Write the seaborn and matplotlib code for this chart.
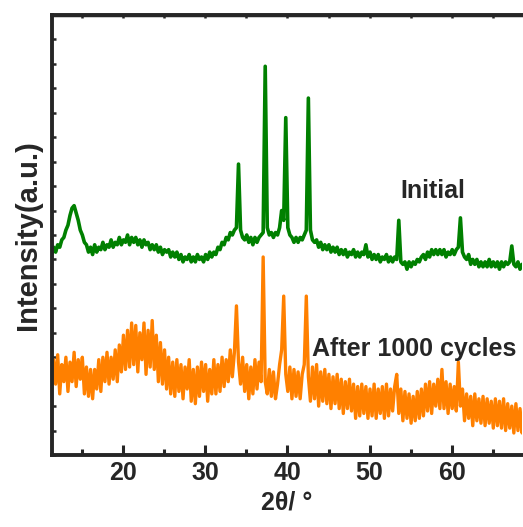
"""XRD patterns: initial vs after 1000 cycles."""

import matplotlib
matplotlib.use("Agg")
import matplotlib.pyplot as plt
from matplotlib.ticker import MultipleLocator
import pandas as pd
import seaborn as sns

# --- data (y in arbitrary units, curves stacked) ---
two_theta = [
    11.30, 11.55, 11.80, 12.05, 12.30, 12.55, 12.80, 13.05, 13.30, 13.55,
    13.80, 14.05, 14.30, 14.55, 14.80, 15.05, 15.30, 15.55, 15.80, 16.05,
    16.30, 16.55, 16.80, 17.05, 17.30, 17.55, 17.80, 18.05, 18.30, 18.55,
    18.80, 19.05, 19.30, 19.55, 19.80, 20.05, 20.30, 20.55, 20.80, 21.05,
    21.30, 21.55, 21.80, 22.05, 22.30, 22.55, 22.80, 23.05, 23.30, 23.55,
    23.80, 24.05, 24.30, 24.55, 24.80, 25.05, 25.30, 25.55, 25.80, 26.05,
    26.30, 26.55, 26.80, 27.05, 27.30, 27.55, 27.80, 28.05, 28.30, 28.55,
    28.80, 29.05, 29.30, 29.55, 29.80, 30.05, 30.30, 30.55, 30.80, 31.05,
    31.30, 31.55, 31.80, 32.05, 32.30, 32.55, 32.80, 33.05, 33.30, 33.55,
    33.80, 34.05, 34.30, 34.55, 34.80, 35.05, 35.30, 35.55, 35.80, 36.05,
    36.30, 36.55, 36.80, 37.05, 37.30, 37.55, 37.80, 38.05, 38.30, 38.55,
    38.80, 39.05, 39.30, 39.55, 39.80, 40.05, 40.30, 40.55, 40.80, 41.05,
    41.30, 41.55, 41.80, 42.05, 42.30, 42.55, 42.80, 43.05, 43.30, 43.55,
    43.80, 44.05, 44.30, 44.55, 44.80, 45.05, 45.30, 45.55, 45.80, 46.05,
    46.30, 46.55, 46.80, 47.05, 47.30, 47.55, 47.80, 48.05, 48.30, 48.55,
    48.80, 49.05, 49.30, 49.55, 49.80, 50.05, 50.30, 50.55, 50.80, 51.05,
    51.30, 51.55, 51.80, 52.05, 52.30, 52.55, 52.80, 53.05, 53.30, 53.55,
    53.80, 54.05, 54.30, 54.55, 54.80, 55.05, 55.30, 55.55, 55.80, 56.05,
    56.30, 56.55, 56.80, 57.05, 57.30, 57.55, 57.80, 58.05, 58.30, 58.55,
    58.80, 59.05, 59.30, 59.55, 59.80, 60.05, 60.30, 60.55, 60.80, 61.05,
    61.30, 61.55, 61.80, 62.05, 62.30, 62.55, 62.80, 63.05, 63.30, 63.55,
    63.80, 64.05, 64.30, 64.55, 64.80, 65.05, 65.30, 65.55, 65.80, 66.05,
    66.30, 66.55, 66.80, 67.05, 67.30, 67.55, 67.80, 68.05, 68.30, 68.55,
    68.80,
]

initial = [
    8.2, 8.5, 8.3, 8.6, 8.5, 8.8, 8.9, 9.2, 9.4, 9.8,
    10.1, 10.2, 9.9, 9.6, 9.2, 9.0, 8.7, 8.6, 8.3, 8.5,
    8.2, 8.6, 8.3, 8.5, 8.4, 8.7, 8.4, 8.6, 8.5, 8.8,
    8.5, 8.7, 8.6, 8.9, 8.6, 8.8, 8.7, 9.0, 8.6, 8.9,
    8.7, 8.9, 8.6, 8.8, 8.5, 8.8, 8.6, 8.7, 8.4, 8.6,
    8.4, 8.6, 8.3, 8.5, 8.2, 8.4, 8.3, 8.4, 8.1, 8.3,
    8.1, 8.3, 8.0, 8.2, 7.9, 8.1, 8.0, 8.2, 7.9, 8.1,
    7.9, 8.2, 8.0, 8.1, 7.9, 8.2, 8.0, 8.3, 8.1, 8.3,
    8.2, 8.5, 8.4, 8.7, 8.6, 8.9, 8.8, 9.1, 9.0, 9.2,
    9.3, 11.9, 9.2, 8.9, 8.8, 9.0, 8.7, 8.9, 8.6, 8.9,
    8.7, 8.9, 9.0, 9.1, 15.9, 9.3, 9.0, 9.1, 8.9, 9.1,
    9.0, 9.3, 10.0, 9.6, 13.8, 9.3, 9.0, 8.9, 8.7, 8.9,
    8.7, 8.9, 8.8, 9.0, 9.2, 14.6, 9.2, 8.8, 8.7, 8.8,
    8.5, 8.7, 8.4, 8.6, 8.4, 8.6, 8.3, 8.5, 8.3, 8.5,
    8.2, 8.4, 8.2, 8.4, 8.1, 8.3, 8.2, 8.4, 8.1, 8.3,
    8.1, 8.3, 8.2, 8.6, 8.1, 8.3, 8.0, 8.2, 8.0, 8.2,
    7.9, 8.1, 8.0, 8.2, 7.9, 8.1, 7.9, 8.1, 8.0, 9.6,
    7.9, 7.8, 7.9, 7.6, 7.9, 7.7, 7.9, 7.8, 8.0, 7.9,
    8.1, 8.2, 8.0, 8.3, 8.1, 8.4, 8.2, 8.4, 8.2, 8.4,
    8.2, 8.4, 8.1, 8.3, 8.2, 8.4, 8.2, 8.4, 8.5, 9.7,
    8.3, 8.1, 8.0, 8.2, 7.8, 8.0, 7.8, 8.0, 7.7, 7.9,
    7.7, 7.9, 7.7, 8.0, 7.7, 7.9, 7.7, 7.9, 7.6, 7.9,
    7.7, 7.9, 7.8, 7.9, 8.55, 7.8, 7.7, 7.9, 7.6, 7.8,
    7.7,
]

after_cycles = [
    2.6, 3.9, 2.9, 4.1, 2.5, 3.7, 3.0, 4.0, 2.6, 3.8,
    3.0, 4.2, 2.8, 3.9, 3.1, 4.0, 2.5, 3.6, 2.4, 3.5,
    2.3, 3.5, 2.7, 3.9, 2.6, 4.0, 3.0, 4.2, 2.9, 4.0,
    3.1, 4.3, 3.0, 4.5, 3.4, 4.9, 3.5, 5.1, 3.6, 5.4,
    3.7, 5.3, 3.4, 5.0, 3.9, 5.4, 3.3, 5.1, 3.6, 5.5,
    3.5, 4.9, 3.0, 4.6, 2.9, 4.3, 2.7, 4.0, 2.5, 3.8,
    2.4, 3.9, 2.6, 3.7, 2.3, 3.6, 2.7, 3.9, 2.2, 3.5,
    2.1, 3.6, 2.4, 3.8, 2.6, 3.7, 2.2, 3.5, 2.5, 3.9,
    2.5, 3.7, 2.6, 4.0, 2.8, 3.9, 3.0, 4.3, 3.2, 4.2,
    6.1, 3.8, 2.9, 4.0, 2.6, 3.7, 2.3, 3.6, 2.5, 3.9,
    2.7, 3.8, 3.0, 8.1, 3.0, 2.5, 3.5, 2.4, 3.4, 2.3,
    2.9, 3.7, 4.3, 6.5, 3.3, 2.6, 3.6, 2.3, 3.5, 2.4,
    3.4, 2.3, 3.3, 3.7, 6.5, 3.2, 2.2, 3.6, 2.3, 3.7,
    2.0, 3.4, 2.2, 3.5, 2.1, 3.3, 1.9, 3.2, 2.1, 3.3,
    1.9, 3.1, 1.7, 3.0, 1.9, 3.1, 1.8, 2.9, 1.5, 2.8,
    1.6, 2.9, 1.7, 2.8, 1.5, 2.7, 1.6, 2.9, 1.5, 2.7,
    1.7, 2.8, 1.5, 2.9, 1.6, 2.7, 1.8, 2.8, 3.3, 1.7,
    2.7, 1.4, 2.6, 1.5, 2.5, 1.3, 2.4, 1.4, 2.6, 1.5,
    2.7, 1.6, 2.9, 1.8, 3.0, 1.7, 2.9, 2.0, 3.1, 1.9,
    3.5, 1.9, 3.0, 1.7, 2.9, 1.9, 2.8, 1.8, 3.8, 2.0,
    2.7, 1.4, 2.5, 1.5, 2.4, 1.2, 2.5, 1.4, 2.3, 1.3,
    2.4, 1.2, 2.3, 1.3, 2.2, 1.1, 2.3, 1.2, 2.2, 1.1,
    2.3, 1.0, 2.1, 1.1, 2.0, 0.9, 2.1, 1.0, 1.9, 0.9,
    1.6,
]

GREEN = "#008000"
ORANGE = "#ff8000"

sns.set_style("ticks")
plt.rcParams["font.family"] = ["Liberation Sans", "DejaVu Sans"]
plt.rcParams["font.weight"] = "bold"


def main():
    df = pd.DataFrame({"two_theta": two_theta, "initial": initial,
                       "after": after_cycles})

    fig = plt.figure(figsize=(5.23, 5.27), dpi=100)
    ax = fig.add_axes([0.0985, 0.1366, 0.9005, 0.835])

    sns.lineplot(data=df, x="two_theta", y="initial", color=GREEN,
                 linewidth=2.6, sort=False, estimator=None, ax=ax)
    sns.lineplot(data=df, x="two_theta", y="after", color=ORANGE,
                 linewidth=2.4, sort=False, estimator=None, ax=ax)

    ax.set_xlim(11.3, 68.6)
    ax.set_ylim(0, 18)
    ax.xaxis.set_major_locator(MultipleLocator(10))
    ax.xaxis.set_minor_locator(MultipleLocator(5))
    ax.yaxis.set_major_locator(MultipleLocator(1))

    ax.tick_params(axis="x", which="major", direction="in", length=7,
                   width=2.2, labelsize=18, pad=4, top=False)
    ax.tick_params(axis="x", which="minor", direction="in", length=4,
                   width=2.2, top=False)
    ax.tick_params(axis="y", which="major", direction="in", length=3,
                   width=1.8, labelleft=False)
    for lab in ax.get_xticklabels():
        lab.set_fontweight("bold")

    # short ticks along the top edge
    top = ax.secondary_xaxis("top")
    top.xaxis.set_major_locator(MultipleLocator(5))
    top.tick_params(direction="in", length=2.5, width=1.8, labeltop=False)
    top.spines["top"].set_linewidth(2.5)

    for side in ["left", "bottom", "top"]:
        ax.spines[side].set_linewidth(2.8)
    ax.spines["right"].set_visible(False)

    ax.set_xlabel("2θ/ °", fontsize=18, fontweight="bold", labelpad=4)
    ax.set_ylabel("Intensity(a.u.)", fontsize=21, fontweight="bold",
                  labelpad=7)

    ax.text(53.8, 10.8, "Initial", fontsize=18, fontweight="bold",
            va="center", ha="left")
    ax.text(43.0, 4.34, "After 1000 cycles", fontsize=18, fontweight="bold",
            va="center", ha="left")

    fig.savefig("out.png", dpi=100)
    plt.close(fig)


if __name__ == "__main__":
    main()
